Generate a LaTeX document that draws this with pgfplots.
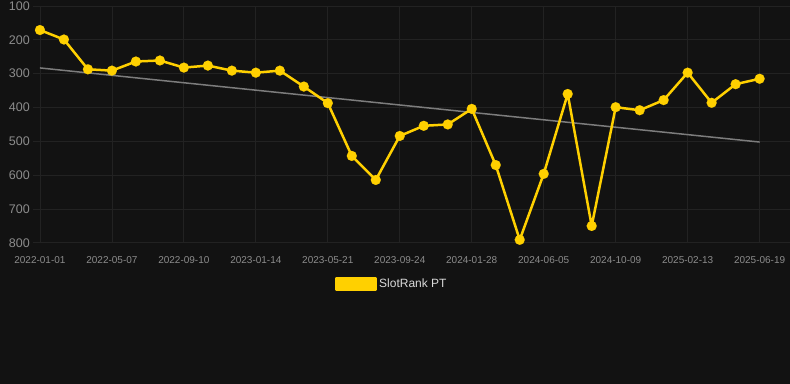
\documentclass[border=0pt]{standalone}
\usepackage{pgfplots}
\pgfplotsset{compat=1.18}
\usepackage{fontspec}
\setmainfont{Liberation Sans}
\definecolor{bg}{HTML}{121212}
\definecolor{gridc}{HTML}{222222}
\definecolor{tickc}{HTML}{8C8C8C}
\definecolor{gold}{HTML}{FFD000}
\definecolor{trend}{HTML}{7C7C7C}
\definecolor{legtext}{HTML}{DADADA}
\begin{document}
\begin{tikzpicture}[x=1pt,y=1pt]
\fill[bg] (0,0) rectangle (790,384);
\begin{axis}[
  at={(33pt,141pt)}, anchor=south west,
  scale only axis, width=757pt, height=237pt,
  xmin=-0.29, xmax=31.25, ymin=100, ymax=800,
  y dir=reverse,
  axis line style={draw=none},
  major tick length=0pt,
  grid=major,
  grid style={gridc, line width=0.8pt},
  xtick={0,3,...,30},
  xticklabels={2022-01-01,2022-05-07,2022-09-10,2023-01-14,2023-05-21,2023-09-24,2024-01-28,2024-06-05,2024-10-09,2025-02-13,2025-06-19},
  ytick={100,200,...,800},
  /pgf/number format/assume math mode=true,
  /pgf/number format/1000 sep={},
  yticklabel style={font=\fontsize{12.5}{12.5}\selectfont, text=tickc, inner sep=0pt, xshift=-3pt},
  xticklabel style={font=\fontsize{10}{10}\selectfont, text=tickc, inner sep=0pt, yshift=-13pt},
  legend style={at={(0.474,-0.173)}, anchor=center, draw=none, fill=none, text=legtext, font=\fontsize{12}{12}\selectfont},
  legend image code/.code={\fill[gold] (0pt,-5.5pt) rectangle (40pt,5.5pt);},
  clip=false,
]
\addplot[trend, line width=1.5pt, forget plot] coordinates {(0,283) (30,502)};
\addplot[gold, line width=2.5pt, line join=round, mark=*, mark size=5pt, mark options={fill=gold, draw=gold, line width=0.1pt, line join=round}] coordinates {
(0,171) (1,199) (2,287) (3,291) (4,264) (5,261) (6,282) (7,276) (8,291) (9,297)
(10,291) (11,338) (12,387) (13,543) (14,614) (15,484) (16,454) (17,450) (18,404) (19,570)
(20,791) (21,596) (22,360) (23,750) (24,399) (25,408) (26,378) (27,297) (28,386) (29,331) (30,315)
};
\addlegendentry{SlotRank PT}
\end{axis}
\end{tikzpicture}
\end{document}
